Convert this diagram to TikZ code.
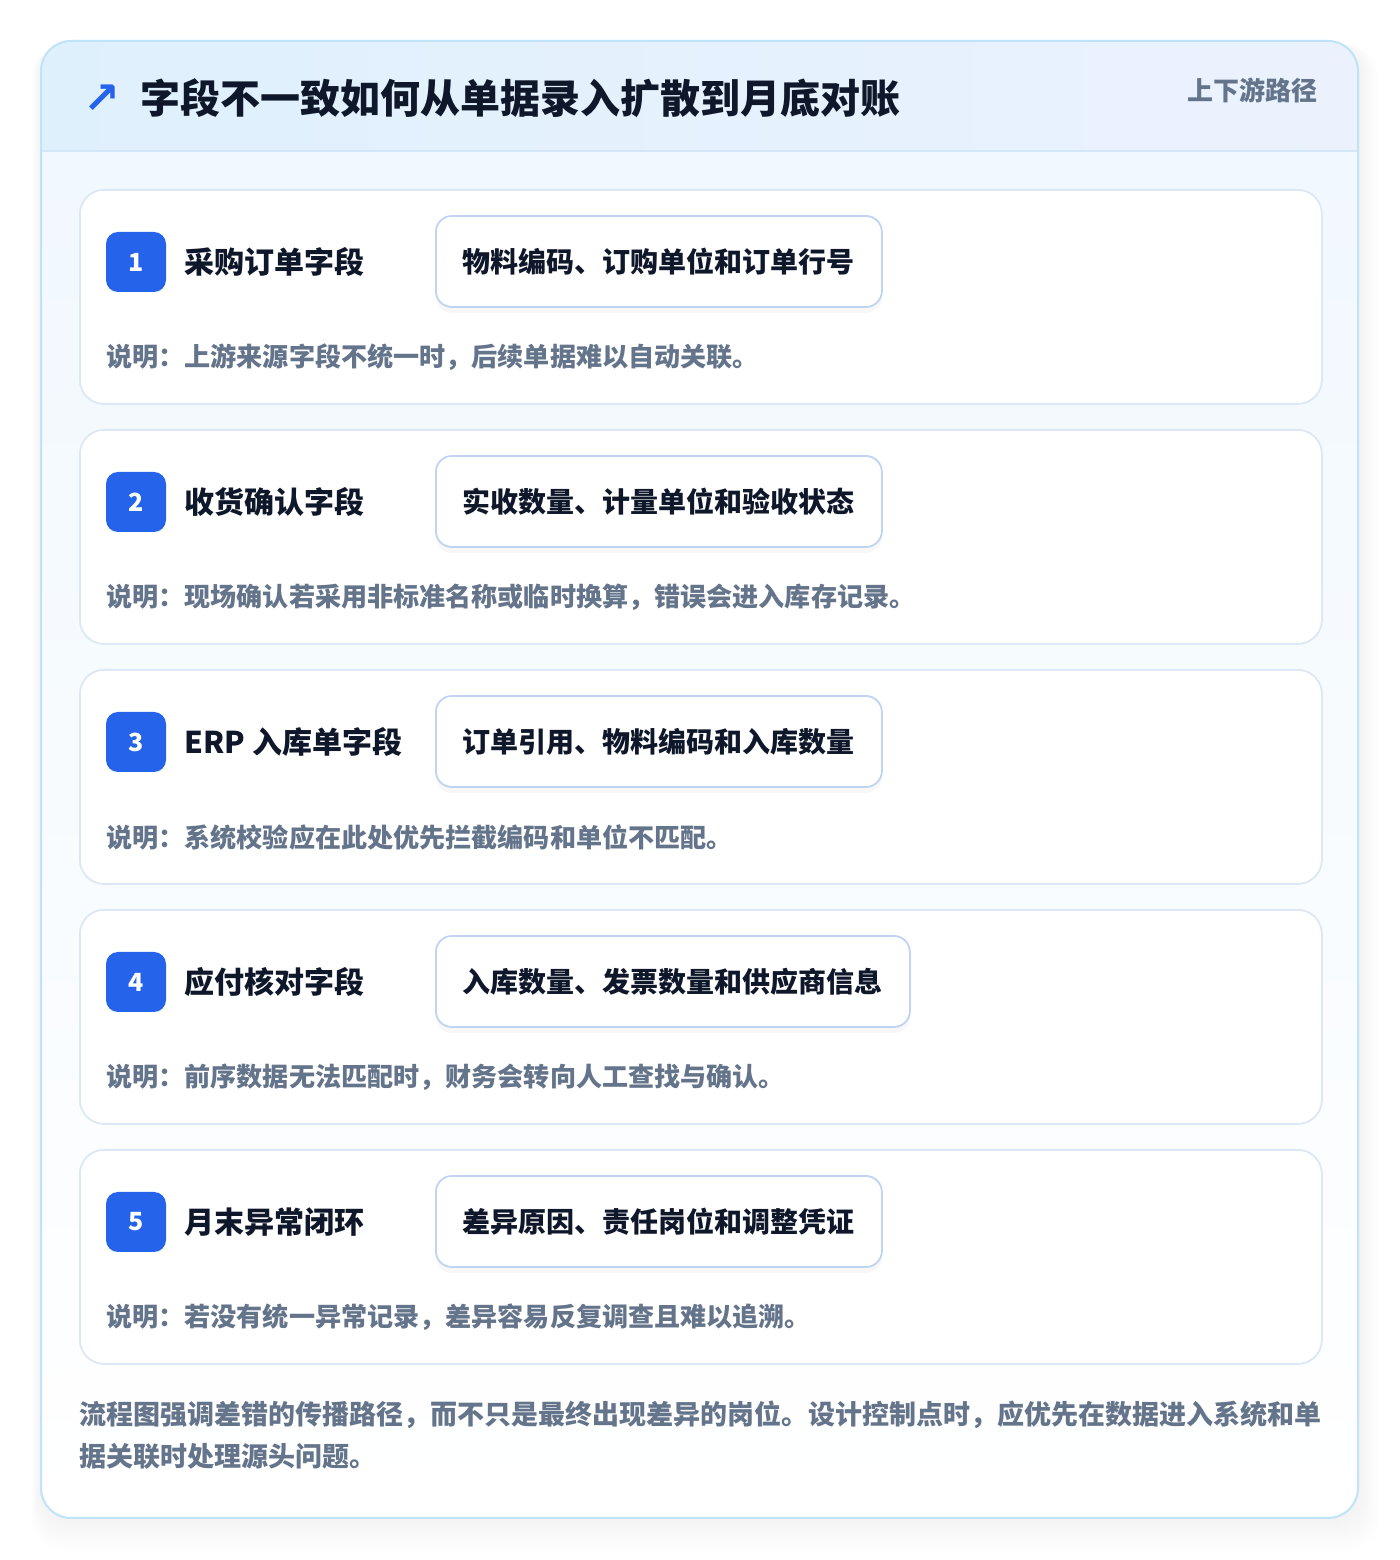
\documentclass[tikz,border=0pt]{standalone}
\usepackage{fontspec}
\setmainfont{Noto Sans CJK SC}
\newfontfamily\heavy{Noto Sans CJK SC}[UprightFont={* Black}, BoldFont={* Black}]
\newfontfamily\symfont{DejaVu Sans}
\usetikzlibrary{positioning,shadows}

\definecolor{ink}{HTML}{0F172A}
\definecolor{muted}{HTML}{64748B}
\definecolor{accent}{HTML}{2563EB}
\definecolor{outerline}{HTML}{BFE3F8}
\definecolor{headline}{HTML}{D4E7F8}
\definecolor{cardline}{HTML}{DCE8F6}
\definecolor{boxline}{HTML}{BED4F2}
\definecolor{headL}{HTML}{DFF0FD}
\definecolor{headR}{HTML}{EBF2FE}
\definecolor{bodytop}{HTML}{F1F8FE}

\tikzset{
  card/.style={draw=cardline, line width=0.9pt, fill=white, rounded corners=12pt,
    minimum width=621pt, minimum height=107pt, anchor=north west, inner sep=0pt},
  badge/.style={fill=accent, rounded corners=6pt, minimum size=30pt, inner sep=0pt,
    text=white, font=\bfseries\fontsize{12.5}{12.5}\selectfont},
  steplabel/.style={inner sep=0pt, text=ink, font=\bfseries\fontsize{15}{15}\selectfont},
  fieldbox/.style={draw=boxline, line width=0.9pt, fill=white, rounded corners=8pt,
    minimum height=45.5pt, inner xsep=13.5pt, anchor=west, text=ink,
    font=\bfseries\fontsize{14}{14}\selectfont,
    drop shadow={opacity=0.06, shadow xshift=0pt, shadow yshift=-3pt}},
  note/.style={anchor=west, inner sep=0pt, text=muted, font=\bfseries\fontsize{13.05}{13.05}\selectfont},
}

\begin{document}
\begin{tikzpicture}[x=1pt, y=1pt]
  \useasboundingbox (0,0) rectangle (700,780);
  \fill[white] (0,0) rectangle (700,780);

  % soft shadow of the panel
  \foreach \s in {1,...,12}
    \fill[black, opacity=0.005, rounded corners=16pt]
      (20.5-\s*0.4, 21-\s*1.4) rectangle (679+\s*0.9, 759.5-\s*0.2);

  % panel
  \begin{scope}
    \clip[rounded corners=15pt] (20.5,21) rectangle (679,759.5);
    \shade[top color=bodytop, bottom color=white] (20.5,21) rectangle (679,704.5);
    \shade[left color=headL, right color=headR] (20.5,704.5) rectangle (679,759.5);
    \draw[headline, line width=0.9pt] (20.5,704.5) -- (679,704.5);
  \end{scope}
  \draw[outerline, line width=1pt, rounded corners=15pt] (20.5,21) rectangle (679,759.5);

  % header
  \node[text=accent, inner sep=0pt, font=\symfont\bfseries\fontsize{22}{22}\selectfont] (icon) at (51,730.5) {↗};
  \node[anchor=west, inner sep=0pt, text=ink, font=\heavy\fontsize{20}{20}\selectfont] (title) at (70,731)
    {字段不一致如何从单据录入扩散到月底对账};
  \node[anchor=east, inner sep=0pt, text=muted, font=\bfseries\fontsize{13}{13}\selectfont] (tag) at (659,735)
    {上下游路径};

  % steps
  \foreach \n/\lab/\fld/\desc in {
    1/采购订单字段/物料编码、订购单位和订单行号/说明：上游来源字段不统一时，后续单据难以自动关联。,
    2/收货确认字段/实收数量、计量单位和验收状态/说明：现场确认若采用非标准名称或临时换算，错误会进入库存记录。,
    3/ERP 入库单字段/订单引用、物料编码和入库数量/说明：系统校验应在此处优先拦截编码和单位不匹配。,
    4/应付核对字段/入库数量、发票数量和供应商信息/说明：前序数据无法匹配时，财务会转向人工查找与确认。,
    5/月末异常闭环/差异原因、责任岗位和调整凭证/说明：若没有统一异常记录，差异容易反复调查且难以追溯。}
  {
    \pgfmathsetmacro\top{685.5-120*(\n-1)}
    \node[card] (card\n) at (39.5,\top) {};
    \node[badge] (badge\n) at (68,\top-36.5) {\n};
    \node[steplabel, right=9pt of badge\n] (label\n) {\lab};
    \node[fieldbox] (field\n) at (217.5,\top-36.25) {\fld};
    \node[note] (note\n) at (53,\top-84) {\desc};
  }

  % summary
  \node[note, font=\bfseries\fontsize{13.5}{13.5}\selectfont] (summary1) at (39.5,72.5)
    {流程图强调差错的传播路径，而不只是最终出现差异的岗位。设计控制点时，应优先在数据进入系统和单};
  \node[note, font=\bfseries\fontsize{13.5}{13.5}\selectfont] (summary2) at (39.5,52)
    {据关联时处理源头问题。};
\end{tikzpicture}
\end{document}
